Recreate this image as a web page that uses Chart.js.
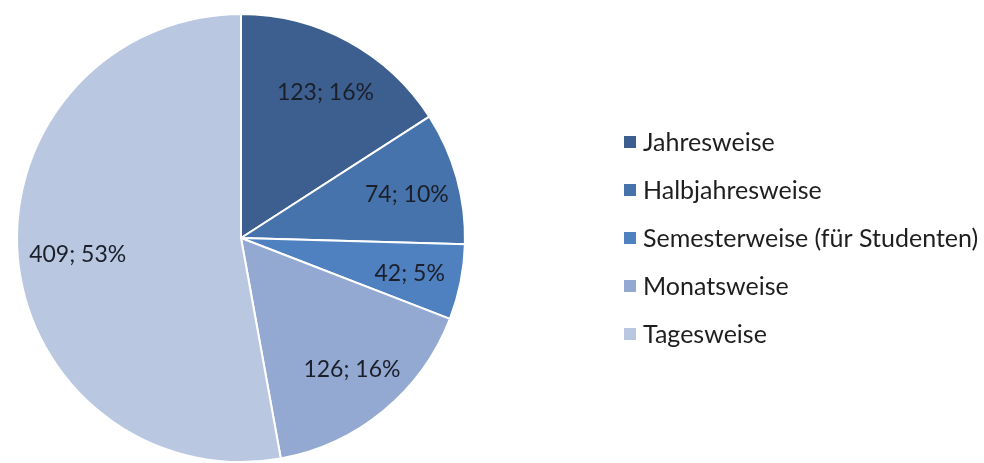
<!DOCTYPE html>
<html>
<head>
<meta charset="utf-8">
<script src="https://cdn.jsdelivr.net/npm/chart.js@4.4.1/dist/chart.umd.min.js"></script>
<style>
  html, body { margin: 0; padding: 0; background: #ffffff; }
  #wrap { width: 984px; height: 463px; position: relative; }
</style>
</head>
<body>
<div id="wrap"><canvas id="c" width="984" height="463"></canvas></div>
<script>
const categories = ["Jahresweise", "Halbjahresweise", "Semesterweise (für Studenten)", "Monatsweise", "Tagesweise"];
const counts = [123, 74, 42, 126, 409];
const percentLabels = ["16%", "10%", "5%", "16%", "53%"];
const sliceColors = ["#3d5f8f", "#4673ab", "#4f80bf", "#93a9d1", "#b9c7e1"];

const FONT = "Lato, 'Open Sans', sans-serif";

const sliceLabels = {
  id: "sliceLabels",
  afterDatasetsDraw(chart) {
    const ctx = chart.ctx;
    const meta = chart.getDatasetMeta(0);
    ctx.save();
    ctx.font = "23px " + FONT;
    ctx.fillStyle = "#1a1f29";
    ctx.textAlign = "center";
    ctx.textBaseline = "middle";
    meta.data.forEach((arc, i) => {
      const p = arc.getProps(["x", "y", "startAngle", "endAngle", "outerRadius"], true);
      const mid = (p.startAngle + p.endAngle) / 2;
      const r = p.outerRadius * 0.75;
      const x = p.x + Math.cos(mid) * r + 4;
      const y = p.y + Math.sin(mid) * r + 2;
      ctx.fillText(counts[i] + "; " + percentLabels[i], x, y);
    });
    ctx.restore();
  }
};

const sideLegend = {
  id: "sideLegend",
  afterDraw(chart) {
    const ctx = chart.ctx;
    ctx.save();
    ctx.font = "25px " + FONT;
    ctx.textAlign = "left";
    ctx.textBaseline = "middle";
    const x0 = 624, top = 142, step = 48;
    chart.data.labels.forEach((lab, i) => {
      const y = top + i * step;
      ctx.fillStyle = chart.data.datasets[0].backgroundColor[i];
      ctx.fillRect(x0, y - 6, 12, 12);
      ctx.fillStyle = "#1e1e1e";
      ctx.fillText(lab, x0 + 19, y + 1);
    });
    ctx.restore();
  }
};

new Chart(document.getElementById("c"), {
  type: "pie",
  data: {
    labels: categories,
    datasets: [{
      data: counts,
      backgroundColor: sliceColors,
      borderColor: "#ffffff",
      borderWidth: 2
    }]
  },
  options: {
    responsive: false,
    animation: false,
    layout: { padding: { left: 16, right: 518, top: 13, bottom: 0 } },
    plugins: {
      legend: { display: false },
      tooltip: { enabled: false }
    }
  },
  plugins: [sliceLabels, sideLegend]
});
</script>
</body>
</html>
